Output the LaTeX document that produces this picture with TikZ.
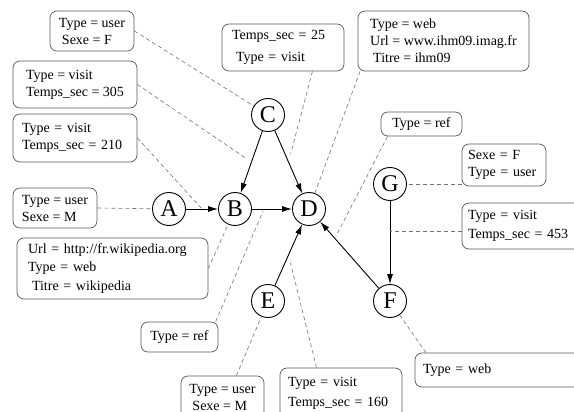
\documentclass[tikz,border=0pt]{standalone}
\usepackage{fontspec}
\setmainfont{Liberation Serif}
\usetikzlibrary{arrows.meta}

\begin{document}
\begin{tikzpicture}[x=1pt, y=-1pt,
  vertex/.style={circle, draw, line width=0.9pt, minimum size=33pt, inner sep=0pt, font=\fontsize{24}{24}\selectfont},
  arc/.style={line width=0.9pt, -{Latex[length=10pt,width=6pt]}},
  attr/.style={draw=black!65, line width=0.7pt, rounded corners=7pt, align=left, inner xsep=0pt, inner ysep=2pt, font=\fontsize{14}{17}\selectfont},
  link/.style={draw=black!55, line width=0.6pt, dash pattern=on 4pt off 3pt}]
  \useasboundingbox (0,0) rectangle (574,412);
  % graph nodes
  \node[vertex] (A) at (169,209) {A};
  \node[vertex] (B) at (235,209) {B};
  \node[vertex] (C) at (268,115) {C};
  \node[vertex] (D) at (309,209) {D};
  \node[vertex] (E) at (268,301) {E};
  \node[vertex] (F) at (390,301) {F};
  \node[vertex] (G) at (390,184) {G};
  % arcs, with a point on each for its attributes
  \draw[arc] (A) -- (B) coordinate[pos=0.5] (ab);
  \draw[arc] (C) -- (B) coordinate[pos=0.5] (cb);
  \draw[arc] (C) -- (D) coordinate[pos=0.5] (cd);
  \draw[arc] (B) -- (D) coordinate[pos=0.3] (bd);
  \draw[arc] (E) -- (D) coordinate[pos=0.5] (ed);
  \draw[arc] (F) -- (D) coordinate[pos=0.75] (fd);
  \draw[arc] (G) -- (F) coordinate[pos=0.37] (gf);
  % attribute boxes, left side
  \node[attr, minimum width=84pt, minimum height=40pt] (b1) at (92,31) {Type = user\\\hspace*{3pt}Sexe = F};
  \node[attr, minimum width=124pt, minimum height=47pt] (b2) at (75,84.5) {Type = visit\\Temps\_sec = 305};
  \node[attr, text width=106pt, minimum width=124pt, minimum height=48pt] (b3) at (75,138) {Type = visit\\Temps\_sec = 210};
  \node[attr, minimum width=84pt, minimum height=40pt] (b4) at (55,208) {Type = user\\Sexe = M};
  \node[attr, text width=169pt, minimum width=191pt, minimum height=61pt] (b5) at (112.5,268.5) {Url = http://fr.wikipedia.org\\[1.5pt]Type = web\\[1.5pt]\hspace*{4pt}Titre = wikipedia};
  \node[attr, minimum width=77pt, minimum height=30pt] (b6) at (179.5,337) {Type = ref};
  % attribute boxes, bottom
  \node[attr, minimum width=83pt, minimum height=42pt] (b7) at (222.5,397) {Type = user\\\hspace*{3pt}Sexe = M};
  \node[attr, text width=106pt, minimum width=122pt, minimum height=50pt] (b8) at (341,393) {Type = visit\\[3pt]Temps\_sec = 160};
  \node[attr, text width=169pt, minimum width=185pt, minimum height=34pt] (b9) at (507.5,370) {Type = web};
  % attribute boxes, right side and top
  \node[attr, text width=118pt, minimum width=130pt, minimum height=46pt] (b10) at (527,226) {Type = visit\\[2pt]Temps\_sec = 453};
  \node[attr, text width=72pt, minimum width=84pt, minimum height=42pt] (b11) at (504,165) {Sexe = F\\Type = user};
  \node[attr, minimum width=81pt, minimum height=24pt] (b12) at (421.5,124) {Type = ref};
  \node[attr, minimum width=171pt, minimum height=60pt] (b13) at (443.5,41) {Type = web\\Url = www.ihm09.imag.fr\\\hspace*{3pt}Titre = ihm09};
  \node[attr, text width=102pt, minimum width=122pt, minimum height=47pt] (b14) at (283,47.5) {Temps\_sec = 25\\[5pt]\hspace*{4pt}Type = visit};
  % dashed links from boxes
  \draw[link] (b1.east) -- (C);
  \draw[link, shorten >=8pt] (b2.east) -- (cb);
  \draw[link] (b3.east) -- (ab);
  \draw[link] (b4.east) -- (A);
  \draw[link] (b5.east) -- (B);
  \draw[link, shorten >=2pt] (b6.23) -- (bd);
  \draw[link] (b7.57) -- (E);
  \draw[link, shorten >=8pt] (b8.134) -- (ed);
  \draw[link] (b9.168) -- (F);
  \draw[link] (b10.west |- gf) -- (gf);
  \draw[link] (b11.west |- G) -- (G);
  \draw[link, shorten >=2pt] (b12.200) -- (fd);
  \draw[link] (b13.200) -- (D);
  \draw[link, shorten >=8pt] (b14.321) -- (cd);
\end{tikzpicture}
\end{document}
